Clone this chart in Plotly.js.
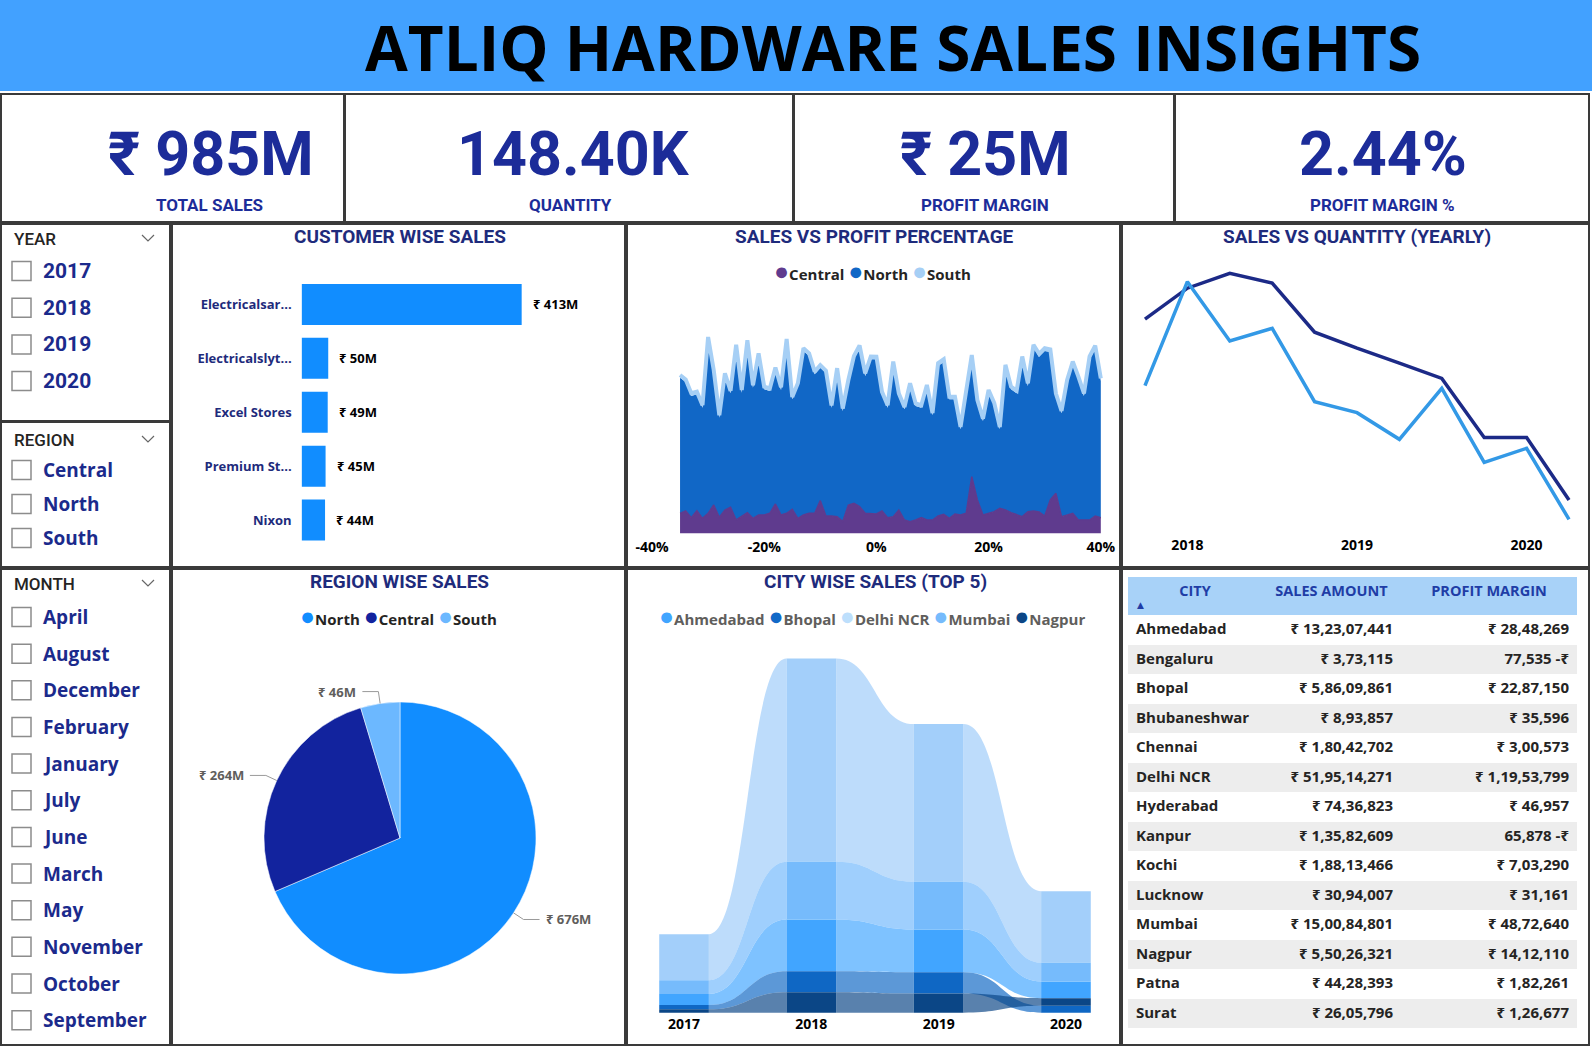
<!DOCTYPE html>
<html><head><meta charset="utf-8">
<script src="https://cdn.plot.ly/plotly-3.0.1.min.js"></script>
<style>html,body{margin:0;padding:0;background:#fff;overflow:hidden}#chart{width:1592px;height:1046px}</style>
</head><body><div id="chart"></div>
<script>
// ================= DATA =================
const dashTitle = 'ATLIQ HARDWARE SALES INSIGHTS';
const kpiValues = ['₹ 985M', '148.40K', '₹ 25M', '2.44%'];
const kpiLabels = ['TOTAL SALES', 'QUANTITY', 'PROFIT MARGIN', 'PROFIT MARGIN %'];

const yearItems = ['2017', '2018', '2019', '2020'];
const regionItems = ['Central', 'North', 'South'];
const monthItems = ['April', 'August', 'December', 'February', 'January', 'July', 'June', 'March', 'May', 'November', 'October', 'September'];

const customers = ['Electricalsar...', 'Electricalslyt...', 'Excel Stores', 'Premium St...', 'Nixon'];
const customerSales = [413, 50, 49, 45, 44]; // ₹ M

const areaRegions = ['Central', 'North', 'South'];
const profitPct = [-35,-34,-33,-32,-31,-30,-29,-28,-27,-26,-25,-24,-23,-22,-21,-20,-19,-18,-17,-16,-15,-14,-13,-12,-11,-10,-9,-8,-7,-6,-5,-4,-3,-2,-1,0,1,2,3,4,5,6,7,8,9,10,11,12,13,14,15,16,17,18,19,20,21,22,23,24,25,26,27,28,29,30,31,32,33,34,35,36,37,38,39,40];
const centralSales = [1.20,1.34,0.94,1.36,0.90,1.20,1.70,0.96,1.40,1.56,0.80,1.00,1.24,0.90,1.10,1.10,1.20,1.76,1.10,1.20,1.44,0.90,1.10,1.20,1.20,1.96,1.04,1.04,1.00,0.70,1.70,1.80,1.60,1.20,1.20,1.16,1.34,0.94,1.00,1.40,0.80,0.70,0.80,0.94,0.80,0.80,1.04,1.14,0.90,1.16,1.10,1.20,3.40,2.00,1.10,1.20,1.30,1.50,1.40,1.24,1.10,1.00,1.30,1.34,1.28,1.04,2.00,2.40,1.00,1.10,1.20,0.80,0.80,0.80,1.04,0.94];
const northSales = [8.14,7.74,7.30,6.98,6.64,10.40,7.94,5.98,8.04,6.84,10.34,7.44,10.16,7.84,9.54,7.54,7.34,8.02,7.50,10.28,6.60,7.94,9.84,9.44,8.34,7.98,8.56,6.50,8.74,6.64,7.34,8.68,9.50,8.24,9.24,9.28,7.00,6.60,9.14,6.84,6.64,8.14,6.84,6.60,7.94,6.28,9.00,9.14,7.14,6.88,5.14,7.04,7.14,5.84,5.64,7.24,6.38,4.74,8.54,7.40,7.30,9.44,7.54,9.80,9.32,9.90,8.88,5.84,6.20,7.94,8.94,8.44,7.44,9.64,10.04,8.20];
const southSales = [0.16,0.15,0.17,0.16,0.15,0.18,0.16,0.14,0.16,0.15,0.17,0.16,0.18,0.15,0.16,0.16,0.15,0.17,0.16,0.18,0.14,0.16,0.17,0.16,0.16,0.15,0.16,0.14,0.17,0.15,0.16,0.16,0.17,0.16,0.17,0.16,0.15,0.14,0.17,0.15,0.14,0.16,0.15,0.15,0.16,0.14,0.17,0.17,0.15,0.15,0.14,0.16,0.16,0.15,0.14,0.16,0.15,0.14,0.17,0.16,0.16,0.17,0.16,0.18,0.17,0.17,0.16,0.15,0.15,0.16,0.17,0.16,0.16,0.17,0.18,0.16];

const quarters = ['2017 Q4','2018 Q1','2018 Q2','2018 Q3','2018 Q4','2019 Q1','2019 Q2','2019 Q3','2019 Q4','2020 Q1','2020 Q2'];
const quarterSales = [87.8, 99.4, 105.0, 101.3, 82.9, 76.9, 71.3, 65.6, 43.4, 43.4, 20.0];      // ₹ M
const quarterQty = [12.06, 18.30, 14.74, 15.50, 11.10, 10.44, 8.84, 11.90, 7.46, 8.30, 4.04];    // K units
const quarterTicks = ['2018 Q1', '2019 Q1', '2020 Q1'];
const quarterTickText = ['2018', '2019', '2020'];

const pieRegions = ['North', 'Central', 'South'];
const pieSales = [676, 264, 46]; // ₹ M

const ribbonYears = [2017, 2018, 2019, 2020];
const ribbonCities = ['Ahmedabad', 'Bhopal', 'Delhi NCR', 'Mumbai', 'Nagpur'];
const ahmedabadSales = [11.9, 56.1, 46.3, 18.1];
const bhopalSales = [4.7, 22.8, 23.2, 7.6];
const delhiSales = [50.0, 220.8, 171.2, 77.8];
const mumbaiSales = [15.0, 62.8, 52.0, 20.3];
const nagpurSales = [3.7, 22.3, 20.8, 8.2];

const tableHeaders = ['CITY', 'SALES AMOUNT', 'PROFIT MARGIN'];
const tableCities = ['Ahmedabad','Bengaluru','Bhopal','Bhubaneshwar','Chennai','Delhi NCR','Hyderabad','Kanpur','Kochi','Lucknow','Mumbai','Nagpur','Patna','Surat'];
const tableSales = [132307441, 373115, 58609861, 893857, 18042702, 519514271, 7436823, 13582609, 18813466, 3094007, 150084801, 55026321, 4428393, 2605796];
const tableProfit = [2848269, -77535, 2287150, 35596, 300573, 11953799, 46957, -65878, 703290, 31161, 4872640, 1412110, 182261, 126677];

// ================= HELPERS =================
const W = 1592, H = 1046;
const X = p => p / W;
const Y = p => 1 - p / H;
const NAVY = '#1B2A8C';
const DIN = 'Roboto, "DejaVu Sans", sans-serif';
const SEG = '"Open Sans", "Noto Sans", sans-serif';

function inr(n) {
  const s = String(Math.abs(Math.round(n)));
  let last3 = s.slice(-3), rest = s.slice(0, -3);
  if (rest) last3 = ',' + last3;
  rest = rest.replace(/\B(?=(\d{2})+(?!\d))/g, ',');
  return rest + last3;
}
const fmtSales = v => '₹ ' + inr(v);
const fmtProfit = v => v < 0 ? inr(v) + ' -₹' : '₹ ' + inr(v);

const shapes = [];
const annotations = [];
function rect(x0, y0, x1, y1, o) {
  o = o || {};
  shapes.push({type: 'rect', xref: 'paper', yref: 'paper', x0: X(x0), x1: X(x1), y0: Y(y0), y1: Y(y1),
    line: {color: o.lc || '#3a3a3a', width: o.lw === undefined ? 2 : o.lw},
    fillcolor: o.fill || 'rgba(0,0,0,0)', layer: o.layer || 'above'});
}
function pathPx(pts, color, width) {
  const d = pts.map((p, i) => (i ? 'L' : 'M') + X(p[0]).toFixed(5) + ',' + Y(p[1]).toFixed(5)).join(' ');
  shapes.push({type: 'path', xref: 'paper', yref: 'paper', path: d, line: {color: color, width: width}, layer: 'above'});
}
function txt(x, y, text, font, xanchor, o) {
  o = o || {};
  annotations.push(Object.assign({xref: 'paper', yref: 'paper', x: X(x), y: Y(y), text: text, showarrow: false,
    xanchor: xanchor || 'center', yanchor: 'middle', font: font}, o));
}

// ================= BACKGROUND / PANELS =================
rect(0, 0, W, 91, {fill: '#42A1FF', lw: 0, layer: 'below'});
[[1,94,344,222],[345,94,793,222],[794,94,1174,222],[1175,94,1589,222],
 [1,224,170,421],[1,422,170,567],[172,224,625,567],[627,224,1120,567],[1122,224,1589,567],
 [1,569,170,1045],[172,569,625,1045],[627,569,1120,1045],[1122,569,1589,1045]]
 .forEach(r => rect(r[0], r[1], r[2], r[3]));

// Title
txt(893, 47, dashTitle, {family: SEG, size: 62, color: '#000', weight: 'bold'});

// KPI cards
const kpiX = [211, 573, 985, 1383];
kpiValues.forEach((v, i) => {
  txt(kpiX[i], 154, v, {family: DIN, size: 61, color: '#1C2C99', weight: 'bold'});
});
const kpiLX = [210, 570, 985, 1382];
kpiLabels.forEach((v, i) => {
  txt(kpiLX[i], 205, v, {family: DIN, size: 17, color: '#1C2C99', weight: 'bold'});
});

// ================= SLICERS =================
function slicer(header, hy, items, y0, step, font) {
  txt(12, hy, header, {family: DIN, size: 17, color: '#252423', weight: 500}, 'left');
  pathPx([[142, hy - 4], [148, hy + 2], [154, hy - 4]], '#666', 1.2);
  items.forEach((it, i) => {
    const cy = y0 + i * step;
    rect(12, cy - 9.5, 31, cy + 9.5, {lc: '#8c8c8c', lw: 1.5, fill: '#fff'});
    txt(41, cy, it, font, 'left');
  });
}
slicer('YEAR', 239, yearItems, 271, 36.7, {family: DIN, size: 21, color: NAVY, weight: 'bold'});
slicer('REGION', 440, regionItems, 470, 34, {family: SEG, size: 19, color: NAVY, weight: 'bold'});
slicer('MONTH', 584, monthItems, 617, 36.65, {family: SEG, size: 19, color: NAVY, weight: 'bold'});

// ================= PANEL TITLES & LEGENDS =================
const titleFont = {family: DIN, size: 19, color: '#1E2B7C', weight: 'bold'};
txt(400, 236, 'CUSTOMER WISE SALES', titleFont);
txt(874, 236, 'SALES VS PROFIT PERCENTAGE', titleFont);
txt(1357, 236, 'SALES VS QUANTITY (YEARLY)', titleFont);
txt(400, 581, 'REGION WISE SALES', titleFont);
txt(875, 581, 'CITY WISE SALES (TOP 5)', titleFont);

const areaColors = ['#5F3B8E', '#1167C6', '#A6CFF5'];
const pieColors = ['#118DFF', '#12239E', '#6CB8FF'];
const colColors = ['#41A5FF', '#0F67C4', '#A3CFFA', '#76BBFC', '#0B4686'];
const ribColors = ['rgba(65,165,255,0.68)', 'rgba(15,103,196,0.68)', 'rgba(163,207,250,0.72)', 'rgba(118,187,252,0.7)', 'rgba(11,70,134,0.68)'];
const legendColors = ['#41A5FF', '#1269C7', '#BDDFFC', '#76BBFC', '#0B4686'];
const dot = (c) => '<span style="color:' + c + ';font-size:25px">●</span>';
txt(872, 270, areaRegions.map((r, i) => dot(areaColors[i]) + r).join(' '), {family: SEG, size: 15, color: '#252423', weight: 'bold'});
txt(398, 615, pieRegions.map((r, i) => dot(pieColors[i]) + r).join(' '), {family: SEG, size: 15, color: '#252423', weight: 'bold'});
txt(872, 615, ribbonCities.map((r, i) => dot(legendColors[i]) + r).join(' '), {family: SEG, size: 15, color: '#605E5C', weight: 'bold'});

// ================= TRACES =================
const traces = [];

// Customer wise sales (horizontal bar)
traces.push({type: 'bar', orientation: 'h', x: customerSales, y: customers, xaxis: 'x', yaxis: 'y',
  marker: {color: '#118DFF'}, hoverinfo: 'x+y', showlegend: false});
customers.forEach((c, i) => annotations.push({xref: 'x', yref: 'y', x: customerSales[i], y: c,
  text: '₹ ' + customerSales[i] + 'M', showarrow: false, xanchor: 'left', xshift: 9,
  font: {family: SEG, size: 13, color: '#000', weight: 'bold'}}));

// Sales vs profit percentage (stacked area)
[centralSales, northSales, southSales].forEach((s, i) => traces.push({
  type: 'scatter', mode: 'lines', x: profitPct, y: s, name: areaRegions[i], stackgroup: 'reg',
  xaxis: 'x2', yaxis: 'y2', fillcolor: areaColors[i], showlegend: false,
  line: {color: areaColors[i], width: i === 2 ? 4 : (i === 0 ? 1.5 : 0)}
}));

// Sales vs quantity (yearly)
traces.push({type: 'scatter', mode: 'lines', x: quarters, y: quarterSales, name: 'Sales', xaxis: 'x3', yaxis: 'y3',
  line: {color: '#1C2A87', width: 3.5}, showlegend: false});
traces.push({type: 'scatter', mode: 'lines', x: quarters, y: quarterQty, name: 'Quantity', xaxis: 'x3', yaxis: 'y4',
  line: {color: '#3399E6', width: 3.5}, showlegend: false});

// Region wise sales (pie)
const pieCx = 400, pieCy = 838, pieR = 136;
traces.push({type: 'pie', labels: pieRegions, values: pieSales, sort: false, direction: 'clockwise', rotation: 0,
  marker: {colors: pieColors, line: {color: '#fff', width: 0.5}}, textinfo: 'none', textposition: 'none',
  domain: {x: [X(pieCx - pieR), X(pieCx + pieR)], y: [Y(pieCy + pieR), Y(pieCy - pieR)]}, showlegend: false});
(function () {
  const total = pieSales.reduce((a, b) => a + b, 0);
  let cum = 0;
  pieSales.forEach((v, i) => {
    const th = 2 * Math.PI * (cum + v / 2) / total; cum += v;
    const dx = Math.sin(th), dy = -Math.cos(th);
    const e = [pieCx + pieR * dx, pieCy + pieR * dy];
    const b = [pieCx + (pieR + 12) * dx, pieCy + (pieR + 12) * dy];
    const side = dx >= 0 ? 1 : -1;
    const h = [b[0] + side * 16, b[1]];
    pathPx([e, b, h], '#9a9a9a', 1);
    txt(h[0] + side * 4, h[1], '₹ ' + v + 'M', {family: SEG, size: 13, color: '#605E5C', weight: 'bold'}, side > 0 ? 'left' : 'right');
  });
})();

// City wise sales (ribbon)
const citySeries = [ahmedabadSales, bhopalSales, delhiSales, mumbaiSales, nagpurSales];
const bases = citySeries.map(() => []);
ribbonYears.forEach((yr, yi) => {
  const order = citySeries.map((s, c) => c).sort((a, b) => citySeries[a][yi] - citySeries[b][yi]);
  let cum = 0;
  order.forEach(c => { bases[c][yi] = cum; cum += citySeries[c][yi]; });
});
const hw = 0.195;
citySeries.forEach((s, c) => {
  for (let i = 0; i < ribbonYears.length - 1; i++) {
    const xr = ribbonYears[i] + hw, xl = ribbonYears[i + 1] - hw, xm = (xr + xl) / 2;
    const b0 = bases[c][i], t0 = b0 + s[i], b1 = bases[c][i + 1], t1 = b1 + s[i + 1];
    shapes.push({type: 'path', xref: 'x5', yref: 'y5', layer: 'below', fillcolor: ribColors[c], line: {width: 0},
      path: `M${xr},${b0} L${xr},${t0} C${xm},${t0} ${xm},${t1} ${xl},${t1} L${xl},${b1} C${xm},${b1} ${xm},${b0} ${xr},${b0} Z`});
  }
  traces.push({type: 'bar', x: ribbonYears, y: s, base: bases[c], width: 2 * hw, name: ribbonCities[c],
    xaxis: 'x5', yaxis: 'y5', marker: {color: colColors[c], line: {width: 0}}, showlegend: false});
});

// Table
const rowFill = tableCities.map((_, i) => i % 2 ? '#EDEDED' : '#FFFFFF');
traces.push({type: 'table', domain: {x: [X(1128), X(1577)], y: [Y(1044), Y(577)]},
  columnwidth: [134, 139, 176],
  header: {values: tableHeaders, align: 'center', height: 38, fill: {color: '#A8D2F8'}, line: {width: 0},
    font: {family: SEG, size: 14.5, color: '#1F3DA6', weight: 'bold'}},
  cells: {values: [tableCities, tableSales.map(fmtSales), tableProfit.map(fmtProfit)],
    align: ['left', 'right', 'right'], height: 29.5, fill: {color: [rowFill, rowFill, rowFill]}, line: {width: 0},
    font: {family: SEG, size: 15, color: '#252423', weight: 'bold'}}});
txt(1140, 605, '▲', {family: 'DejaVu Sans', size: 9, color: '#1F3DA6'});

// ================= LAYOUT =================
const noAxis = {showgrid: false, zeroline: false, showline: false, fixedrange: true};
const tickF = {family: SEG, size: 14, color: '#000', weight: 'bold'};
const layout = {
  width: W, height: H, margin: {l: 0, r: 0, t: 0, b: 0}, paper_bgcolor: '#fff', plot_bgcolor: 'rgba(0,0,0,0)',
  showlegend: false, barmode: 'overlay', bargap: 0.24, hovermode: false,
  xaxis: Object.assign({}, noAxis, {domain: [X(301.6), X(601.6)], range: [0, 563], showticklabels: false, anchor: 'y'}),
  yaxis: Object.assign({}, noAxis, {domain: [Y(547), Y(277.5)], type: 'category', autorange: 'reversed', anchor: 'x',
    ticklabelstandoff: 9, tickfont: {family: SEG, size: 13, color: '#1E2B7C', weight: 'bold'}}),
  xaxis2: Object.assign({}, noAxis, {domain: [X(640), X(1110)], range: [-42.14, 41.64], anchor: 'y2',
    tickmode: 'array', tickvals: [-40, -20, 0, 20, 40], ticktext: ['-40%', '-20%', '0%', '20%', '40%'], tickfont: tickF}),
  yaxis2: Object.assign({}, noAxis, {domain: [Y(537), Y(300)], range: [-0.22, 14.0], showticklabels: false, anchor: 'x2'}),
  xaxis3: Object.assign({}, noAxis, {domain: [X(1122), X(1590)], type: 'category', range: [-0.542, 10.495], anchor: 'y3',
    tickmode: 'array', tickvals: quarterTicks, ticktext: quarterTickText, tickfont: tickF}),
  yaxis3: Object.assign({}, noAxis, {domain: [Y(535), Y(233)], range: [6.875, 120.1], showticklabels: false, anchor: 'x3'}),
  yaxis4: Object.assign({}, noAxis, {overlaying: 'y3', range: [3.1, 21.22], showticklabels: false, anchor: 'x3'}),
  xaxis5: Object.assign({}, noAxis, {domain: [X(640), X(1110)], range: [2016.654, 2020.346], anchor: 'y5',
    tickmode: 'array', tickvals: ribbonYears, ticktext: ribbonYears.map(String), tickfont: tickF}),
  yaxis5: Object.assign({}, noAxis, {domain: [Y(1014), Y(640)], range: [-1.41, 404.8], showticklabels: false, anchor: 'x5'}),
  shapes: shapes, annotations: annotations
};
Plotly.newPlot('chart', traces, layout, {displayModeBar: false, staticPlot: true});
</script></body></html>
